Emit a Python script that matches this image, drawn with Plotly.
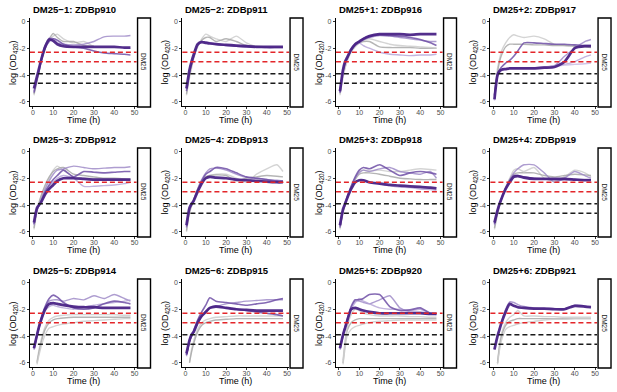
import plotly.graph_objects as go

# ---------------- data ----------------
TIME = [0.5, 2, 3, 4, 6, 8, 10, 12, 15, 20, 25, 30, 35, 40, 45, 48]
X_TICKS = [0, 10, 20, 30, 40, 50]
Y_TICKS = [-6, -4, -2, 0]
Y_TICK_LABELS = ["-6", "-4", "-2", "0"]
RED_LEVELS = [-2.3, -3.0]
BLACK_LEVELS = [-3.9, -4.6]
STRIP_LABEL = "DM25"
PANEL_TITLES = ["DM25−1: ZDBp910", "DM25−2: ZDBp911", "DM25+1: ZDBp916", "DM25+2: ZDBp917",
                "DM25−3: ZDBp912", "DM25−4: ZDBp913", "DM25+3: ZDBp918", "DM25+4: ZDBp919",
                "DM25−5: ZDBp914", "DM25−6: ZDBp915", "DM25+5: ZDBp920", "DM25+6: ZDBp921"]

P910_DK = [-5.0, -4.1, -3.5, -2.9, -1.9, -1.35, -1.45, -1.7, -1.85, -1.9, -1.9, -1.9, -1.9, -1.9, -1.95, -1.95]
P910_LT1 = [-5.2, -4.2, -3.5, -2.9, -1.8, -1.25, -1.3, -1.6, -1.7, -1.75, -1.7, -1.5, -1.15, -1.1, -1.1, -1.05]
P910_MD = [-5.3, -4.3, -3.7, -3.0, -2.0, -1.5, -1.3, -1.4, -1.7, -1.9, -2.0, -2.2, -2.35, -2.4, -2.45, -2.5]
P910_G1 = [-5.5, -4.5, -3.8, -3.0, -2.0, -1.4, -1.1, -0.95, -1.3, -1.6, -1.5, -1.9, None, None, None, None]
P910_G2 = [-5.4, -4.4, -3.6, -2.8, -1.8, -1.3, -0.9, -1.2, -1.5, -1.5, -1.8, -1.85, None, None, None, None]

P911_DK = [-5.0, -3.6, -3.0, -2.5, -1.7, -1.55, -1.6, -1.65, -1.7, -1.75, -1.8, -1.85, -1.9, -1.9, -1.9, -1.9]
P911_MD = [-5.2, -3.8, -3.2, -2.7, -1.8, -1.5, -1.55, -1.6, -1.7, -1.8, -1.85, -1.9, -1.9, -1.95, -1.95, -1.95]
P911_G1 = [-5.5, -4.2, -3.5, -2.8, -1.9, -1.3, -0.95, -1.1, -1.3, -1.5, -1.1, -1.6, -1.9, None, None, None]
P911_G2 = [-5.4, -4.0, -3.3, -2.6, -1.8, -1.4, -1.2, -1.2, -1.5, -1.3, -1.5, -1.8, -1.85, -1.9, None, None]

P916_DK = [-5.2, -3.6, -3.0, -2.7, -2.1, -1.7, -1.5, -1.3, -1.1, -0.95, -0.95, -0.95, -1.0, -0.95, -0.95, -0.95]
P916_MD = [-5.3, -3.7, -3.1, -2.8, -2.1, -1.7, -1.5, -1.3, -1.1, -1.0, -1.05, -1.1, -1.2, -1.35, -1.6, -1.8]
P916_LT1 = [-5.3, -3.8, -3.2, -2.8, -2.2, -1.8, -1.6, -1.4, -1.2, -1.05, -1.1, -1.2, -1.3, -1.4, -1.5, -1.5]
P916_LT2 = [-5.2, -3.6, -3.0, -2.7, -2.1, -1.7, -1.6, -1.8, -2.0, -2.3, -2.45, -2.5, -2.55, -2.5, -2.5, -2.45]
P916_G1 = [-5.4, -4.0, -3.4, -2.9, -2.2, -1.8, -1.6, -1.5, -1.5, -1.9, -1.95, -1.95, -1.95, -2.0, -2.0, -2.0]
P916_G2 = [-5.5, -4.2, -3.5, -3.0, -2.3, -1.9, -1.6, -1.4, -1.3, -1.5, -1.7, -1.8, -1.85, -1.9, -1.95, -2.0]

P917_DK = [-5.8, -4.0, -3.7, -3.6, -3.55, -3.5, -3.5, -3.5, -3.5, -3.5, -3.45, -3.4, -3.0, -2.0, -1.85, -1.85]
P917_MD = [-5.5, -3.9, -3.6, -3.4, -3.1, -2.9, -2.6, -2.2, -1.6, -1.6, -1.65, -1.7, -1.7, -1.75, -1.8, -1.8]
P917_LT1 = [-5.8, -4.0, -3.7, -3.6, -3.55, -3.5, -3.5, -3.5, -3.5, -3.45, -3.4, -3.3, -2.6, -2.0, -1.5, -1.35]
P917_LT2 = [-5.8, -4.1, -3.8, -3.6, -3.55, -3.5, -3.5, -3.5, -3.5, -3.45, -3.4, -3.3, -3.2, -3.0, -2.65, -2.5]
P917_LT3 = [-5.9, -4.1, -3.8, -3.6, -3.55, -3.5, -3.5, -3.5, -3.5, -3.45, -3.4, -3.35, -3.25, -3.2, -3.15, -3.1]
P917_G1 = [-5.5, -3.5, -2.8, -2.2, -1.6, -1.2, -1.0, -1.1, -1.2, -1.1, -1.3, -1.7, -1.8, -1.8, -1.85, -1.9]
P917_G2 = [-5.6, -3.8, -3.0, -2.5, -1.9, -1.7, -1.7, -1.7, -1.7, -1.75, -1.75, -1.8, -1.8, -1.85, -1.9, -1.95]

P912_DK = [-5.3, -4.2, -4.0, -3.8, -3.2, -2.8, -2.5, -2.2, -2.0, -2.0, -2.05, -2.1, -2.1, -2.1, -2.1, -2.1]
P912_MD = [-5.4, -4.3, -4.0, -3.7, -3.0, -2.5, -2.1, -1.8, -1.4, -1.9, -1.5, -1.55, -1.6, -1.55, -1.5, -1.5]
P912_LT1 = [-5.5, -4.4, -4.0, -3.6, -2.8, -2.2, -1.7, -1.4, -1.3, -1.1, -1.2, -1.3, -1.25, -1.2, -1.2, -1.15]
P912_LT2 = [-5.4, -4.3, -4.0, -3.7, -3.1, -2.6, -2.3, -2.0, -1.8, -2.0, -2.6, -2.6, -2.55, -2.5, -2.4, -2.3]
P912_G1 = [-5.8, -4.5, -3.9, -3.4, -2.6, -2.0, -1.4, -1.1, -1.4, -1.9, -2.0, -2.0, -2.05, -2.1, -2.1, -2.1]
P912_G2 = [-5.7, -4.4, -3.8, -3.3, -2.5, -1.9, -1.5, -1.3, -1.2, -1.7, -1.8, -1.9, -2.0, -2.0, -2.05, -2.1]

P913_DK = [-5.5, -4.2, -3.9, -3.7, -3.0, -2.4, -2.0, -1.9, -1.95, -2.0, -2.1, -2.15, -2.2, -2.25, -2.3, -2.3]
P913_MD = [-5.6, -4.3, -4.0, -3.7, -2.9, -2.2, -1.7, -1.5, -1.2, -1.3, -1.6, -1.9, -2.0, -2.1, -2.2, -2.2]
P913_LT1 = [-5.7, -4.3, -4.0, -3.6, -2.8, -2.1, -1.6, -1.3, -1.25, -1.4, -1.7, -1.95, -2.0, -2.1, -2.15, -2.2]
P913_G1 = [-6.0, -4.6, -4.1, -3.7, -2.9, -2.3, -1.9, -1.8, -1.7, -1.7, -2.0, -2.3, -1.7, -1.3, -1.0, -1.5]
P913_G2 = [-5.9, -4.5, -4.0, -3.6, -2.8, -2.2, -1.9, -1.8, -1.75, -1.8, -2.2, -2.0, -1.9, -1.8, -1.85, -1.9]

P918_DK = [-5.5, -4.3, -3.9, -3.5, -2.8, -2.3, -2.15, -2.15, -2.3, -2.4, -2.5, -2.55, -2.6, -2.65, -2.7, -2.75]
P918_MD = [-5.6, -4.4, -3.9, -3.4, -2.6, -1.9, -1.4, -1.2, -1.3, -1.0, -1.4, -1.8, -1.6, -1.5, -1.6, -1.7]
P918_LT1 = [-5.7, -4.4, -4.0, -3.5, -2.7, -2.0, -1.6, -1.4, -1.5, -1.3, -1.2, -1.5, -1.6, -1.7, -1.5, -2.0]
P918_LT2 = [-5.5, -4.3, -3.9, -3.5, -2.8, -2.3, -2.15, -2.2, -2.35, -2.45, -2.55, -2.65, -2.7, -2.8, -2.85, -2.9]
P918_G1 = [-5.8, -4.6, -4.0, -3.5, -2.6, -2.0, -1.5, -1.4, -1.45, -1.4, -1.5, -1.5, -1.4, -1.3, -1.35, -1.4]
P918_G2 = [-5.7, -4.5, -4.0, -3.5, -2.7, -2.1, -1.7, -1.6, -1.6, -1.7, -1.85, -2.0, -2.05, -2.1, -2.1, -2.1]

P919_DK = [-5.3, -4.4, -3.9, -3.5, -2.8, -2.3, -1.9, -1.85, -1.95, -2.05, -2.05, -2.05, -2.05, -2.1, -2.15, -2.15]
P919_MD = [-5.4, -4.4, -3.9, -3.5, -2.8, -2.2, -1.8, -1.8, -1.9, -2.0, -2.05, -2.1, -2.1, -2.1, -2.1, -2.1]
P919_LT1 = [-5.5, -4.5, -4.0, -3.5, -2.7, -2.1, -1.6, -1.3, -1.0, -1.0, -1.6, -2.3, -2.0, -1.5, -1.8, -2.0]
P919_G1 = [-5.8, -4.7, -4.1, -3.6, -2.7, -2.0, -1.4, -1.3, -1.5, -1.2, -2.0, -2.2, -1.9, -1.4, -1.6, -1.9]
P919_G2 = [-5.7, -4.6, -4.0, -3.5, -2.7, -2.1, -1.7, -1.6, -1.6, -1.6, -1.8, -1.9, -1.8, -1.7, -1.75, -1.8]

P914_DK = [-4.9, -3.9, -3.3, -2.8, -2.0, -1.6, -1.55, -1.6, -1.7, -1.8, -1.85, -1.85, -1.9, -1.9, -1.9, -1.9]
P914_MD = [-4.9, -3.9, -3.3, -2.7, -1.8, -1.2, -0.95, -1.1, -1.5, -1.9, -2.0, -1.9, -1.6, -1.4, -1.5, -1.6]
P914_LT1 = [-5.0, -4.0, -3.4, -2.8, -1.9, -1.4, -1.3, -1.3, -1.4, -1.2, -1.3, -1.0, -1.2, -0.9, -1.2, -1.4]
P914_LT2 = [-5.0, -4.0, -3.4, -2.9, -2.1, -1.8, -1.7, -1.8, -1.9, -2.0, -1.85, -1.7, -1.6, -1.5, -1.4, -1.3]
P914_G1 = [None, -5.9, -5.0, -4.3, -3.3, -2.8, -2.6, -2.5, -2.45, -2.4, -2.4, -2.4, -2.4, -2.4, -2.45, -2.45]
P914_G2 = [None, -6.0, -5.2, -4.5, -3.5, -3.0, -2.8, -2.7, -2.65, -2.6, -2.6, -2.6, -2.6, -2.6, -2.6, -2.6]
P914_G3 = [None, -6.1, -5.4, -4.8, -3.9, -3.4, -3.3, -3.2, -3.1, -3.0, -2.9, -2.85, -2.8, -2.75, -2.7, -2.7]

P915_DK = [-5.3, -4.3, -3.9, -3.7, -3.0, -2.5, -2.2, -1.9, -1.8, -1.9, -2.0, -2.05, -2.1, -2.1, -2.1, -2.1]
P915_MD = [-5.4, -4.3, -3.9, -3.6, -2.8, -2.2, -1.7, -1.15, -1.4, -1.5, -1.6, -1.7, -1.6, -1.5, -1.3, -1.2]
P915_MD2 = [-5.4, -4.4, -4.0, -3.7, -3.0, -2.5, -2.2, -1.9, -1.75, -1.9, -2.0, -2.1, -2.2, -2.3, -2.4, -2.5]
P915_LT1 = [-5.5, -4.4, -4.0, -3.7, -3.0, -2.5, -2.2, -1.9, -1.8, -1.6, -1.5, -1.4, -1.35, -1.3, -1.3, -1.3]
P915_G1 = [None, -5.9, -5.0, -4.4, -3.5, -3.0, -2.8, -2.7, -2.6, -2.55, -2.5, -2.5, -2.5, -2.5, -2.5, -2.5]
P915_G2 = [None, -6.0, -5.2, -4.6, -3.7, -3.2, -3.0, -2.9, -2.8, -2.75, -2.7, -2.7, -2.7, -2.7, -2.7, -2.7]

P920_DK = [-4.9, -3.9, -3.4, -2.9, -2.0, -1.9, -2.0, -2.1, -2.2, -2.3, -2.3, -2.3, -2.3, -2.3, -2.35, -2.35]
P920_MD = [-4.9, -3.9, -3.3, -2.8, -1.8, -1.3, -1.3, -1.2, -0.9, -0.9, -1.8, -2.1, -2.05, -1.9, -2.3, -2.35]
P920_LT1 = [-5.0, -4.0, -3.4, -2.9, -1.9, -1.4, -1.4, -1.5, -1.6, -1.3, -1.0, -1.9, -2.2, -2.2, -2.3, -2.3]
P920_LT2 = [-5.0, -4.0, -3.4, -2.9, -2.0, -1.5, -1.2, -1.4, -1.6, -1.9, -2.0, -2.0, -2.1, -2.0, -2.3, -2.4]
P920_G1 = [None, -6.0, -4.6, -3.6, -3.0, -2.8, -2.7, -2.7, -2.7, -2.7, -2.7, -2.7, -2.7, -2.7, -2.7, -2.7]
P920_G2 = [None, -5.8, -4.4, -3.4, -2.4, -2.0, -2.1, -2.3, -2.4, -2.5, -2.5, -2.5, -2.55, -2.55, -2.6, -2.6]
P920_G3 = [None, -6.1, -4.9, -4.0, -3.5, -3.3, -3.2, -3.1, -3.0, -2.9, -2.85, -2.8, -2.8, -2.8, -2.8, -2.8]

P921_DK = [-5.0, -4.0, -3.5, -3.0, -2.2, -1.6, -1.75, -1.85, -1.9, -1.95, -1.95, -2.0, -2.0, -1.75, -1.8, -1.85]
P921_LT1 = [-5.0, -3.9, -3.4, -2.9, -2.0, -1.45, -1.5, -1.65, -1.8, -1.9, -1.95, -1.95, -2.0, -1.7, -1.75, -1.9]
P921_G1 = [None, -6.0, -4.6, -3.8, -3.0, -2.6, -2.4, -2.1, -2.5, -2.5, -2.55, -2.55, -2.6, -2.6, -2.6, -2.6]
P921_G2 = [None, -6.0, -4.8, -4.0, -3.2, -2.9, -2.8, -2.7, -2.7, -2.7, -2.7, -2.7, -2.7, -2.7, -2.7, -2.7]
P921_G3 = [None, -6.1, -5.0, -4.3, -3.5, -3.3, -3.2, -3.1, -3.0, -2.9, -2.8, -2.75, -2.75, -2.7, -2.7, -2.7]

# series per panel (draw order: grey, light, medium, dark)
PANEL_SERIES = [
    [(P910_G1, "g1"), (P910_G2, "g2"), (P910_LT1, "lt1"), (P910_MD, "md"), (P910_DK, "dk")],
    [(P911_G1, "g1"), (P911_G2, "g2"), (P911_MD, "md"), (P911_DK, "dk")],
    [(P916_G1, "g2"), (P916_G2, "g1"), (P916_LT1, "lt1"), (P916_LT2, "lt2"), (P916_MD, "md"), (P916_DK, "dk")],
    [(P917_G1, "g1"), (P917_G2, "g2"), (P917_LT1, "lt1"), (P917_LT2, "lt2"), (P917_LT3, "lt3"), (P917_MD, "md"), (P917_DK, "dk")],
    [(P912_G1, "g1"), (P912_G2, "g2"), (P912_LT1, "lt1"), (P912_LT2, "lt2"), (P912_MD, "md"), (P912_DK, "dk")],
    [(P913_G1, "g1"), (P913_G2, "g2"), (P913_LT1, "lt1"), (P913_MD, "md"), (P913_DK, "dk")],
    [(P918_G1, "g1"), (P918_G2, "g2"), (P918_LT1, "lt1"), (P918_LT2, "lt2"), (P918_MD, "md"), (P918_DK, "dk")],
    [(P919_G1, "g1"), (P919_G2, "g2"), (P919_LT1, "lt1"), (P919_MD, "md"), (P919_DK, "dk")],
    [(P914_G1, "g1"), (P914_G2, "g2"), (P914_G3, "g1"), (P914_LT1, "lt1"), (P914_LT2, "lt2"), (P914_MD, "md"), (P914_DK, "dk")],
    [(P915_G1, "g1"), (P915_G2, "g2"), (P915_LT1, "lt1"), (P915_MD, "md"), (P915_MD2, "md"), (P915_DK, "dk")],
    [(P920_G1, "g2"), (P920_G2, "g1"), (P920_G3, "g1"), (P920_LT1, "lt1"), (P920_LT2, "lt2"), (P920_MD, "md"), (P920_DK, "dk")],
    [(P921_G1, "g1"), (P921_G2, "g2"), (P921_G3, "g1"), (P921_LT1, "lt1"), (P921_DK, "dk")],
]

# ---------------- styles ----------------
STYLE = {
    "dk": dict(color="#4A2386", width=2.7, opacity=0.95),
    "md": dict(color="#6E4FA6", width=1.6, opacity=0.85),
    "lt1": dict(color="#9A84C4", width=1.4, opacity=0.8),
    "lt2": dict(color="#B3A1D6", width=1.4, opacity=0.8),
    "lt3": dict(color="#C6B8E2", width=1.4, opacity=0.8),
    "g1": dict(color="#CDCDCD", width=1.4, opacity=0.85),
    "g2": dict(color="#A8A8A8", width=1.4, opacity=0.85),
}

W, H = 617, 392
COL_L = [30, 183, 337, 492]
PLOT_W = 107
ROW_T = [18, 148, 279]
PLOT_H = 88
FONT = "Liberation Sans, Arial, sans-serif"

fig = go.Figure()
shapes = []
annotations = []

for i in range(12):
    r, c = divmod(i, 4)
    n = i + 1
    xs = "" if n == 1 else str(n)
    L, R = COL_L[c], COL_L[c] + PLOT_W
    T, B = ROW_T[r], ROW_T[r] + PLOT_H
    xd = [L / W, R / W]
    yd = [1 - B / H, 1 - T / H]
    for vals, role in PANEL_SERIES[i]:
        st = STYLE[role]
        fig.add_trace(go.Scatter(
            x=TIME, y=vals, mode="lines", xaxis="x" + xs, yaxis="y" + xs,
            line=dict(color=st["color"], width=st["width"], shape="spline", smoothing=0.6),
            opacity=st["opacity"], showlegend=False, hoverinfo="skip"))
    axis_common = dict(showgrid=False, zeroline=False, showline=True, linecolor="black",
                       linewidth=1, ticks="outside", ticklen=2, tickwidth=1, tickcolor="#333",
                       tickfont=dict(family=FONT, size=7, color="#4D4D4D"), fixedrange=True)
    fig.update_layout(**{
        "xaxis" + xs: dict(domain=xd, anchor="y" + xs, range=[-1.5, 51], tickvals=X_TICKS,
                           ticklabelstandoff=-2, **axis_common),
        "yaxis" + xs: dict(domain=yd, anchor="x" + xs, range=[-6.3, 0.25], tickvals=Y_TICKS,
                           ticktext=Y_TICK_LABELS, **axis_common),
    })
    for lv in RED_LEVELS:
        shapes.append(dict(type="line", xref="x" + xs + " domain", yref="y" + xs, x0=0, x1=1, y0=lv, y1=lv,
                           line=dict(color="#E3262A", width=1.5, dash="5px,3px")))
    for lv in BLACK_LEVELS:
        shapes.append(dict(type="line", xref="x" + xs + " domain", yref="y" + xs, x0=0, x1=1, y0=lv, y1=lv,
                           line=dict(color="#1A1A1A", width=1.5, dash="5px,3px")))
    # strip
    shapes.append(dict(type="rect", xref="paper", yref="paper", x0=(R + 1) / W, x1=(R + 14) / W,
                       y0=1 - (B + 1) / H, y1=1 - T / H, line=dict(color="black", width=1.4),
                       fillcolor="white"))
    annotations.append(dict(x=(R + 7.5) / W, y=1 - (T + B) / 2 / H, xref="paper", yref="paper",
                            text=STRIP_LABEL, textangle=90, showarrow=False,
                            xanchor="center", yanchor="middle",
                            font=dict(family=FONT, size=6.5, color="#1A1A1A")))
    # panel title
    annotations.append(dict(x=(L + 1) / W, y=1 - (T - 8.5) / H, xref="paper", yref="paper",
                            text="<b>" + PANEL_TITLES[i] + "</b>", showarrow=False,
                            xanchor="left", yanchor="middle",
                            font=dict(family=FONT, size=9.5, color="black")))
    # axis titles
    annotations.append(dict(x=(L - 17) / W, y=1 - (T + B) / 2 / H, xref="paper", yref="paper",
                            text="log (OD<sub>420</sub>)", textangle=-90, showarrow=False,
                            xanchor="center", yanchor="middle",
                            font=dict(family=FONT, size=9, color="black")))
    annotations.append(dict(x=(L + PLOT_W / 2) / W, y=1 - (B + 14) / H, xref="paper", yref="paper",
                            text="Time (h)", showarrow=False, xanchor="center", yanchor="middle",
                            font=dict(family=FONT, size=9, color="black")))

fig.update_layout(width=W, height=H, margin=dict(l=0, r=0, t=0, b=0),
                  paper_bgcolor="white", plot_bgcolor="white",
                  shapes=shapes, annotations=annotations, showlegend=False)

fig.write_html("out.html", config={"displayModeBar": False, "staticPlot": True},
               post_script="document.body.style.margin='0';document.body.style.overflow='hidden';")
